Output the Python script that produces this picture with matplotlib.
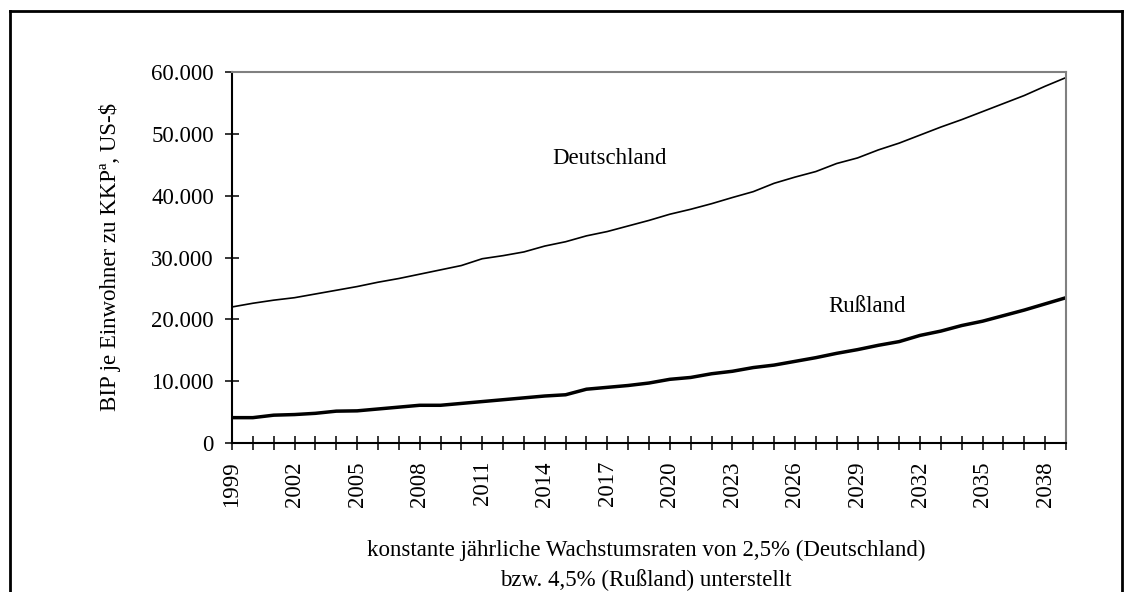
import matplotlib
matplotlib.use("Agg")
import matplotlib.pyplot as plt
from matplotlib.lines import Line2D
from matplotlib.ticker import FuncFormatter, MultipleLocator

years = list(range(1999, 2040))
deutschland = [22000, 22600, 23100, 23500, 24100, 24700, 25300, 26000, 26600, 27300,
               28000, 28700, 29800, 30300, 30900, 31850, 32550, 33500, 34200, 35100,
               36000, 37000, 37800, 38700, 39700, 40650, 42000, 43000, 43900, 45200,
               46100, 47400, 48500, 49800, 51100, 52300, 53600, 54900, 56200, 57700, 59100]
russland = [4100, 4100, 4500, 4600, 4800, 5150, 5200, 5500, 5800, 6100,
            6100, 6400, 6700, 7000, 7300, 7600, 7800, 8700, 9000, 9300,
            9700, 10300, 10600, 11200, 11600, 12200, 12600, 13200, 13800, 14500,
            15100, 15800, 16400, 17400, 18100, 19000, 19700, 20600, 21500, 22500, 23500]
label_years = list(range(1999, 2039, 3))
series_labels = ["Deutschland", "Rußland"]

FONT = "Liberation Serif"
FS = 16.5
plt.rcParams["font.family"] = [FONT, "DejaVu Serif"]

W, H = 1124, 592
fig = plt.figure(figsize=(W / 100, H / 100), dpi=100)
left, right, top, bottom = 232, 1066, 72, 443
ax = fig.add_axes([left / W, 1 - bottom / H, (right - left) / W, (bottom - top) / H])

ax.plot(years, deutschland, color="black", lw=1.2, solid_joinstyle="round")
ax.plot(years, russland, color="black", lw=2.5, solid_joinstyle="round")

ax.set_xlim(1999, 2039)
ax.set_ylim(0, 60000)
ax.yaxis.set_major_locator(MultipleLocator(10000))
ax.yaxis.set_major_formatter(FuncFormatter(lambda v, p: f"{int(v):,}".replace(",", ".")))
ax.set_xticks(years)
ax.set_xticklabels([str(y) if y in label_years else "" for y in years], rotation=90)

for s in ["top", "right"]:
    ax.spines[s].set_color("#808080")
    ax.spines[s].set_linewidth(1.5)
for s in ["left", "bottom"]:
    ax.spines[s].set_color("black")
    ax.spines[s].set_linewidth(1.5)
ax.tick_params(axis="both", direction="inout", length=10, width=1.1, colors="black",
               labelsize=FS)
ax.tick_params(axis="y", pad=8)
ax.tick_params(axis="x", pad=8)

ax.text(610, 158, "", transform=None)
fig.text(610 / W, 1 - 158 / H, series_labels[0], ha="center", va="center", fontsize=FS)
fig.text(867 / W, 1 - 306 / H, series_labels[1], ha="center", va="center", fontsize=FS)

fig.text(110 / W, 1 - 257 / H, "BIP je Einwohner zu KKPª, US-$", rotation=90,
         ha="center", va="center", fontsize=FS)
fig.text(646 / W, 1 - 550 / H, "konstante jährliche Wachstumsraten von 2,5% (Deutschland)",
         ha="center", va="center", fontsize=FS)
fig.text(646 / W, 1 - 580 / H, "bzw. 4,5% (Rußland) unterstellt",
         ha="center", va="center", fontsize=FS)

# outer frame (bottom edge lies outside the picture)
for xs, ys in [([10, 10], [11, 600]), ([10, 1122], [11, 11]), ([1122, 1122], [11, 600])]:
    fig.add_artist(Line2D([x / W for x in xs], [1 - y / H for y in ys], color="black",
                          lw=2, transform=fig.transFigure, clip_on=False))

fig.savefig("out.png", dpi=100)
